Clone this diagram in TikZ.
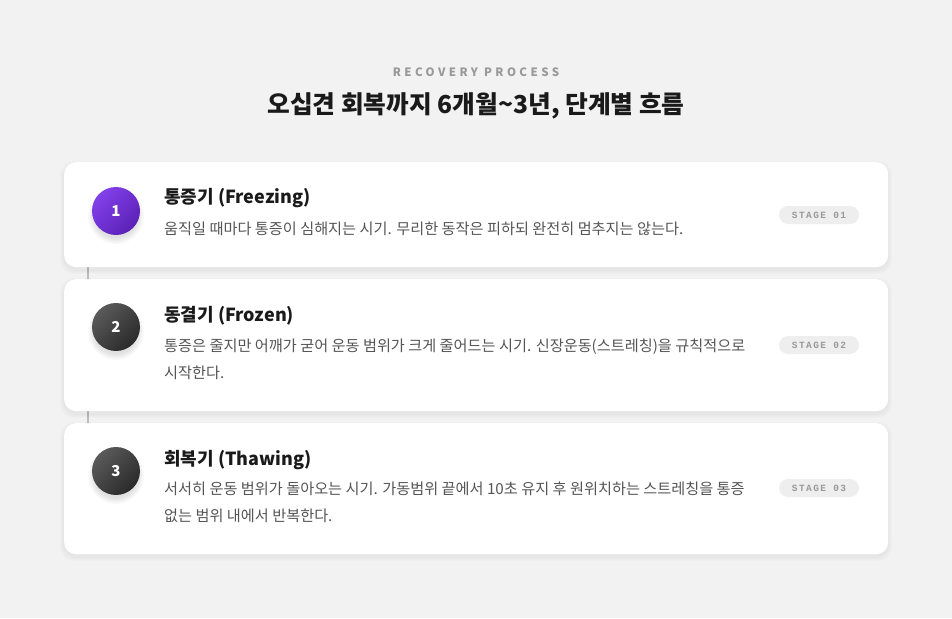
\documentclass[tikz,border=0pt]{standalone}
\usepackage{fontspec}
\setmainfont{Noto Sans CJK KR}
\newfontfamily\monofnt{Liberation Mono}
\usetikzlibrary{positioning}
\definecolor{bgc}{HTML}{F2F2F2}
\definecolor{inkc}{HTML}{1A1A1A}
\definecolor{descc}{HTML}{555555}
\definecolor{subc}{HTML}{999999}
\definecolor{badgec}{HTML}{EEEEEE}
\definecolor{linec}{HTML}{BBBBBB}
\definecolor{purA}{HTML}{8240EA}
\definecolor{purB}{HTML}{5B21B6}
\definecolor{gryA}{HTML}{5A5A5A}
\definecolor{gryB}{HTML}{2A2A2A}
\tikzset{
  card/.style={fill=white, rounded corners=12pt},
  cardtitle/.style={anchor=base west, inner sep=0pt, font=\bfseries\fontsize{18}{22}\selectfont, text=inkc},
  carddesc/.style={anchor=base west, inner sep=0pt, font=\fontsize{15.2}{27}\selectfont, text=descc, align=left},
  badge/.style={fill=badgec, rounded corners=9pt, minimum width=80pt, minimum height=18pt, inner sep=0pt, font=\monofnt\bfseries\fontsize{9.5}{11}\selectfont\addfontfeatures{LetterSpace=15}, text=subc},
  numtxt/.style={font=\bfseries\fontsize{15}{18}\selectfont, text=white, inner sep=0pt},
  tline/.style={draw=linec, line width=2pt},
}
\newcommand{\softshadow}[4]{% x1 y1 x2 y2
  \foreach \k in {1,...,4}{
    \fill[black, opacity=0.012, rounded corners=14pt] (#1-\k,#2-\k+3) rectangle (#3+\k,#4+\k+3);
  }
}
\newcommand{\circshadow}[2]{%
  \foreach \k in {1,...,5}{
    \fill[black, opacity=0.025] (#1,#2+5) circle (21+\k*1.4);
  }
}
\begin{document}
\begin{tikzpicture}[x=1pt,y=-1pt]
\fill[bgc] (0,0) rectangle (952,618);
\useasboundingbox (0,0) rectangle (952,618);

% header
\node[font=\bfseries\fontsize{11.5}{13}\selectfont\addfontfeatures{LetterSpace=30}, text=subc, inner sep=0pt] (kicker) at (476,72) {RECOVERY PROCESS};
\node[font=\bfseries\fontsize{24.7}{30}\selectfont, text=inkc, inner sep=0pt] (head) at (476,106) {오십견 회복까지 6개월\textasciitilde 3년, 단계별 흐름};

% timeline line (behind cards)
\coordinate (ltop) at (88,240);
\coordinate (lbot) at (88,450);
\draw[tline] (ltop) -- (lbot);

% cards
\softshadow{64}{162}{888}{267}
\softshadow{64}{279}{888}{411}
\softshadow{64}{423}{888}{554}
\node[card, minimum width=824pt, minimum height=105pt, anchor=north west, inner sep=0pt] (card1) at (64,162) {};
\node[card, minimum width=824pt, minimum height=132pt, anchor=north west, inner sep=0pt] (card2) at (64,279) {};
\node[card, minimum width=824pt, minimum height=131pt, anchor=north west, inner sep=0pt] (card3) at (64,423) {};

% circles
\circshadow{116}{211}
\circshadow{116}{327}
\circshadow{116}{471}
\shade[left color=purA, right color=purB, shading angle=45] (116,211) circle (24);
\shade[left color=gryA, right color=gryB, shading angle=45] (116,327) circle (24);
\shade[left color=gryA, right color=gryB, shading angle=45] (116,471) circle (24);
\node[numtxt] (n1) at (116,211) {1};
\node[numtxt] (n2) at (116,327) {2};
\node[numtxt] (n3) at (116,471) {3};

% texts
\node[cardtitle] (t1) at (164,203) {통증기 (Freezing)};
\node[carddesc] (d1) at (164,234) {움직일 때마다 통증이 심해지는 시기. 무리한 동작은 피하되 완전히 멈추지는 않는다.};
\node[cardtitle] (t2) at (164,321) {동결기 (Frozen)};
\node[carddesc] (d2) at (164,378) {통증은 줄지만 어깨가 굳어 운동 범위가 크게 줄어드는 시기. 신장운동(스트레칭)을 규칙적으로\\시작한다.};
\node[cardtitle] (t3) at (164,465) {회복기 (Thawing)};
\node[carddesc] (d3) at (164,521) {서서히 운동 범위가 돌아오는 시기. 가동범위 끝에서 10초 유지 후 원위치하는 스트레칭을 통증\\없는 범위 내에서 반복한다.};

% badges
\node[badge] (b1) at (819,215) {STAGE 01};
\node[badge] (b2) at (819,345) {STAGE 02};
\node[badge] (b3) at (819,488) {STAGE 03};
\end{tikzpicture}
\end{document}
